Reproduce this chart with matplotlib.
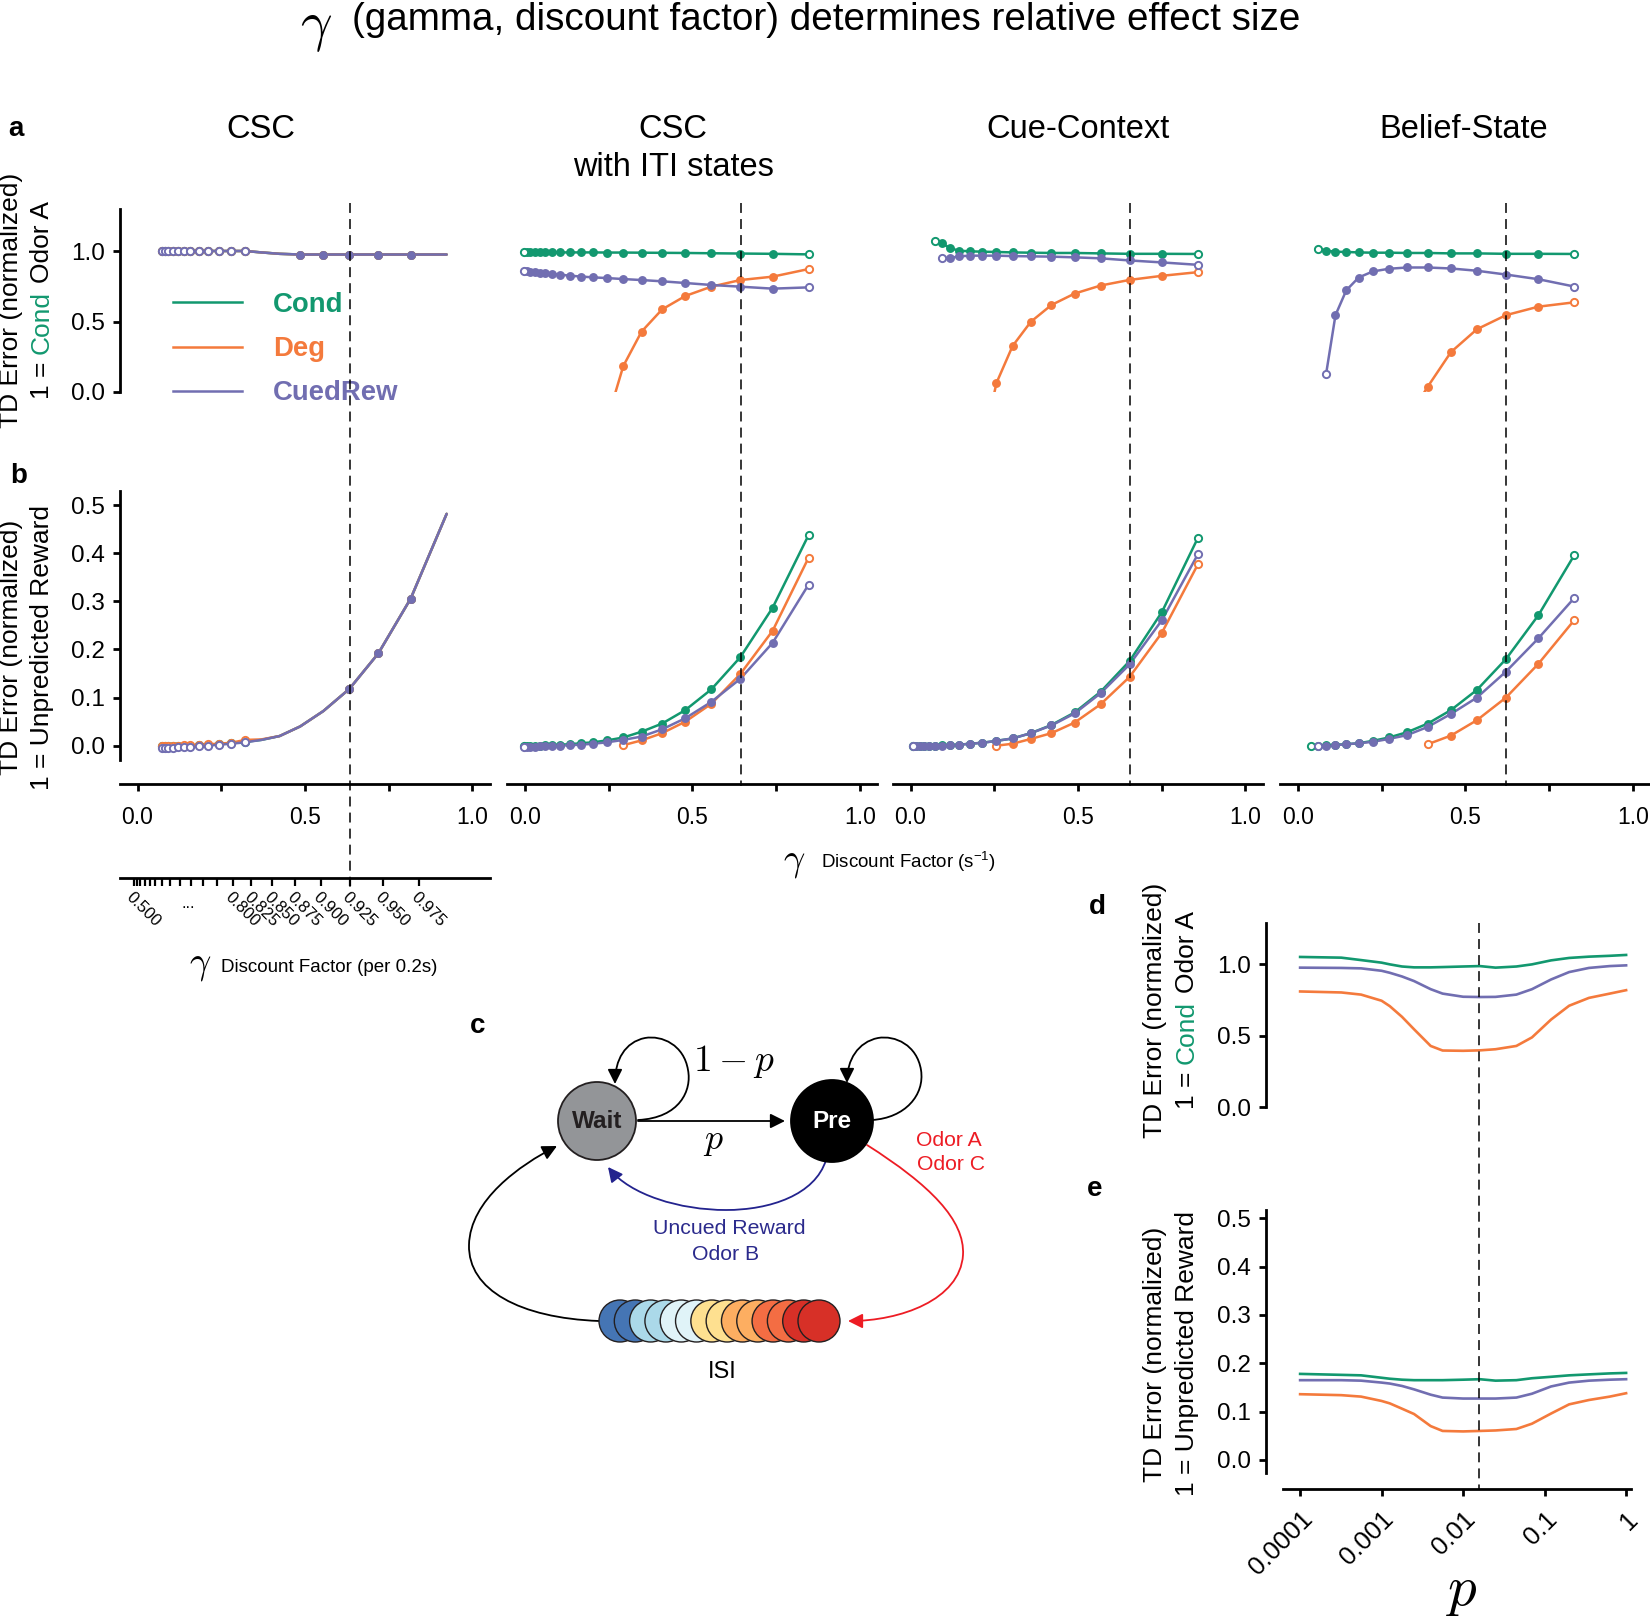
import numpy as np
import matplotlib
matplotlib.use("Agg")
import matplotlib.pyplot as plt
from matplotlib.lines import Line2D
from matplotlib.patches import Circle, FancyArrowPatch
from matplotlib.path import Path
from matplotlib.font_manager import FontProperties
from matplotlib.transforms import blended_transform_factory

FONT = "Liberation Sans"
plt.rcParams["font.family"] = [FONT, "DejaVu Sans"]
plt.rcParams["mathtext.fontset"] = "custom"
plt.rcParams["mathtext.rm"] = FONT
plt.rcParams["mathtext.it"] = FONT + ":italic"

GREEN = "#12986f"
ORANGE = "#f47a3c"
PURPLE = "#716eb1"

# ---------------- data ----------------
# discount factor per 0.2 s step; plotted as gamma**5 (per second)
GAMMA = [0.500, 0.525, 0.550, 0.575, 0.600, 0.625, 0.650, 0.675, 0.700, 0.725,
         0.750, 0.775, 0.800, 0.825, 0.850, 0.875, 0.900, 0.925, 0.950, 0.975]
# each model panel was placed with a small horizontal offset in the source figure
X_SHIFT = [0.042, -0.034, -0.023, -0.056]
DASH_X = [0.634, 0.646, 0.656, 0.622]

SERIES = ["Cond", "Deg", "CuedRew"]

# panel a: response to odor A (1 = Cond)   -- (start index into GAMMA, values)
csc_a_cond = (0, [1.00, 1.00, 1.00, 1.00, 1.00, 1.00, 1.00, 1.00, 1.00, 1.00,
                  1.00, 1.00, 0.99, 0.98, 0.975, 0.975, 0.975, 0.975, 0.975, 0.975])
csc_a_deg = (0, [1.00, 1.00, 1.00, 1.00, 1.00, 1.00, 1.00, 1.00, 1.00, 1.00,
                 1.00, 1.00, 0.99, 0.98, 0.975, 0.975, 0.975, 0.975, 0.975, 0.975])
csc_a_cued = (0, [1.00, 1.00, 1.00, 1.00, 1.00, 1.00, 1.00, 1.00, 1.00, 1.00,
                  1.00, 1.00, 0.99, 0.98, 0.975, 0.975, 0.975, 0.975, 0.975, 0.975])
iti_a_cond = (0, [0.990, 0.990, 0.990, 0.990, 0.990, 0.990, 0.990, 0.990, 0.990, 0.990,
                  0.990, 0.989, 0.989, 0.988, 0.987, 0.986, 0.984, 0.982, 0.980, 0.976])
iti_a_deg = (11, [-0.20, 0.184, 0.428, 0.586, 0.681, 0.747, 0.794, 0.818, 0.872])
iti_a_cued = (0, [0.858, 0.855, 0.852, 0.849, 0.846, 0.842, 0.837, 0.832, 0.825, 0.819,
                  0.813, 0.808, 0.801, 0.794, 0.785, 0.773, 0.759, 0.747, 0.733, 0.742])
cue_a_cond = (5, [1.074, 1.057, 1.021, 1.002, 0.998, 0.995, 0.993, 0.990, 0.988, 0.986,
                  0.986, 0.983, 0.980, 0.980, 0.979])
cue_a_deg = (10, [-0.40, 0.064, 0.326, 0.498, 0.617, 0.698, 0.755, 0.795, 0.824, 0.850])
cue_a_cued = (6, [0.952, 0.950, 0.962, 0.967, 0.967, 0.967, 0.964, 0.962, 0.960, 0.955,
                  0.948, 0.933, 0.919, 0.902])
bel_a_cond = (6, [1.017, 1.002, 0.995, 0.993, 0.990, 0.988, 0.988, 0.986, 0.986, 0.983,
                  0.983, 0.980, 0.980, 0.979])
bel_a_deg = (13, [-0.20, 0.038, 0.283, 0.445, 0.545, 0.605, 0.636])
bel_a_cued = (7, [0.129, 0.545, 0.721, 0.812, 0.855, 0.874, 0.883, 0.883, 0.876, 0.860,
                  0.833, 0.800, 0.748])

# panel b: response to reward (1 = unpredicted reward)
csc_b_cond = (0, [0.000, 0.000, 0.000, 0.000, 0.000, 0.000, 0.000, 0.001, 0.002, 0.003,
                  0.005, 0.008, 0.012, 0.020, 0.040, 0.072, 0.118, 0.192, 0.306, 0.482])
csc_b_deg = (0, [0.000, 0.000, 0.000, 0.000, 0.000, 0.001, 0.001, 0.002, 0.003, 0.004,
                 0.006, 0.012, 0.013, 0.020, 0.040, 0.072, 0.118, 0.192, 0.306, 0.482])
csc_b_cued = (0, [-0.004, -0.004, -0.004, -0.004, -0.003, -0.003, -0.002, -0.001, 0.000, 0.002,
                  0.004, 0.007, 0.012, 0.020, 0.040, 0.072, 0.118, 0.192, 0.306, 0.482])
iti_b_cond = (0, [0.000, 0.000, 0.000, 0.000, 0.000, 0.001, 0.001, 0.002, 0.003, 0.005,
                  0.007, 0.011, 0.017, 0.029, 0.046, 0.074, 0.117, 0.184, 0.287, 0.438])
iti_b_deg = (12, [0.001, 0.011, 0.026, 0.050, 0.087, 0.149, 0.239, 0.391])
iti_b_cued = (0, [-0.002, -0.002, -0.002, -0.002, -0.001, -0.001, 0.000, 0.000, 0.001, 0.002,
                  0.004, 0.007, 0.012, 0.019, 0.034, 0.057, 0.091, 0.139, 0.214, 0.335])
cue_b_cond = (0, [0.000, 0.000, 0.000, 0.000, 0.000, 0.000, 0.001, 0.001, 0.002, 0.004,
                  0.006, 0.010, 0.015, 0.026, 0.043, 0.069, 0.112, 0.176, 0.278, 0.432])
cue_b_deg = (11, [0.000, 0.004, 0.014, 0.026, 0.048, 0.086, 0.143, 0.235, 0.377])
cue_b_cued = (0, [-0.001, -0.001, -0.001, -0.001, -0.001, 0.000, 0.000, 0.001, 0.002, 0.004,
                  0.006, 0.010, 0.015, 0.026, 0.042, 0.067, 0.109, 0.169, 0.261, 0.398])
bel_b_cond = (5, [0.000, 0.000, 0.001, 0.002, 0.003, 0.005, 0.010, 0.017, 0.028, 0.046,
                  0.074, 0.116, 0.180, 0.271, 0.396])
bel_b_deg = (14, [0.003, 0.021, 0.053, 0.100, 0.170, 0.261])
bel_b_cued = (6, [-0.001, 0.000, 0.001, 0.003, 0.005, 0.008, 0.014, 0.022, 0.039, 0.066,
                  0.100, 0.154, 0.223, 0.307])

PANEL_A = [(csc_a_cond, csc_a_deg, csc_a_cued), (iti_a_cond, iti_a_deg, iti_a_cued),
           (cue_a_cond, cue_a_deg, cue_a_cued), (bel_a_cond, bel_a_deg, bel_a_cued)]
PANEL_B = [(csc_b_cond, csc_b_deg, csc_b_cued), (iti_b_cond, iti_b_deg, iti_b_cued),
           (cue_b_cond, cue_b_deg, cue_b_cued), (bel_b_cond, bel_b_deg, bel_b_cued)]

# panels d, e: Belief-State model as a function of p
P_VALS = [1e-4, 3.2e-4, 5.6e-4, 1e-3, 1.26e-3, 1.78e-3, 2.5e-3, 4e-3, 5.6e-3, 1e-2,
          1.6e-2, 2.5e-2, 4.5e-2, 7e-2, 0.12, 0.2, 0.35, 0.63, 1.0]
d_cond = [1.052, 1.047, 1.030, 1.012, 1.000, 0.985, 0.979, 0.979, 0.981, 0.985,
          0.988, 0.977, 0.985, 1.000, 1.028, 1.045, 1.054, 1.060, 1.066]
d_deg = [0.810, 0.803, 0.788, 0.745, 0.707, 0.632, 0.545, 0.428, 0.396, 0.394,
         0.397, 0.405, 0.428, 0.488, 0.613, 0.710, 0.765, 0.795, 0.819]
d_cued = [0.977, 0.975, 0.972, 0.955, 0.941, 0.915, 0.883, 0.826, 0.795, 0.773,
          0.771, 0.772, 0.788, 0.826, 0.894, 0.946, 0.975, 0.988, 0.993]
e_cond = [0.178, 0.176, 0.175, 0.170, 0.168, 0.166, 0.165, 0.165, 0.165, 0.166,
          0.167, 0.164, 0.165, 0.169, 0.172, 0.175, 0.177, 0.179, 0.180]
e_deg = [0.136, 0.134, 0.131, 0.122, 0.117, 0.106, 0.095, 0.070, 0.060, 0.059,
         0.060, 0.061, 0.064, 0.075, 0.096, 0.115, 0.124, 0.131, 0.138]
e_cued = [0.165, 0.165, 0.164, 0.160, 0.158, 0.153, 0.146, 0.135, 0.129, 0.127,
          0.127, 0.127, 0.129, 0.137, 0.152, 0.160, 0.164, 0.166, 0.167]
P_DASH = 0.0158
P_TICKS = [1e-4, 1e-3, 1e-2, 1e-1, 1]
P_LABELS = ["0.0001", "0.001", "0.01", "0.1", "1"]

# per-0.2 s gamma ticks under the CSC panel
G02_TICKS = [0.500, 0.525, 0.550, 0.575, 0.600, 0.625, 0.650, 0.675, 0.700, 0.725, 0.750, 0.775,
             0.800, 0.825, 0.850, 0.875, 0.900, 0.925, 0.950, 0.975]
G02_LABELED = ["0.500", "0.800", "0.825", "0.850", "0.875", "0.900", "0.925", "0.950", "0.975"]

ISI_COLORS = ["#4575b4", "#4575b4", "#abd9e9", "#abd9e9", "#e0f3f8", "#e0f3f8", "#fee090",
              "#fee090", "#fdae61", "#fdae61", "#f46d43", "#f46d43", "#d73027", "#d73027"]

# ---------------- layout helpers (pixel units, y from top) ----------------
W, H = 1650, 1618
fig = plt.figure(figsize=(W / 100, H / 100), dpi=100)
renderer = fig.canvas.get_renderer()


def fx(x):
    return x / W


def fy(y):
    return 1 - y / H


def px_axes(left, top, width, height):
    return fig.add_axes([fx(left), fy(top + height), width / W, height / H])


def text_w(s, size, weight="normal"):
    fp = FontProperties(family=FONT, size=size, weight=weight)
    w, h, d = renderer.get_text_width_height_descent(s, fp, ismath=False)
    return w


def ylabel2(x1, x2, yc, line1, pieces, size=19):
    fig.text(fx(x1), fy(yc), line1, rotation=90, ha="center", va="center", fontsize=size)
    full = "".join(s for s, c in pieces)
    start = yc + text_w(full, size) / 2
    prefix = ""
    for s, c in pieces:
        prefix += s
        word = s.strip()
        off = text_w(prefix.rstrip(), size) - text_w(word, size)
        fig.text(fx(x2), fy(start - off), word, rotation=90, ha="center", va="bottom",
                 fontsize=size, color=c)


LW = 1.8
SPINE = 2.0
COLORS = [GREEN, ORANGE, PURPLE]


def style_axis(ax):
    for s in ax.spines.values():
        s.set_visible(False)
        s.set_linewidth(SPINE)
    ax.tick_params(width=SPINE, length=5, labelsize=16.5, direction="out")
    ax.tick_params(axis="y", labelsize=17.5)
    ax.patch.set_alpha(0)


def draw_series(ax, col, series, color, fill_lo):
    start, vals = series
    g = np.array(GAMMA[start:start + len(vals)])
    x = g ** 5 + X_SHIFT[col]
    y = np.array(vals)
    ax.plot(x, y, color=color, lw=LW, solid_capstyle="round", zorder=2)
    n = len(x)
    if col == 0:
        open_m = g < 0.79
        fill_m = (g > fill_lo) & (g < 0.96)
    else:
        open_m = np.zeros(n, bool)
        open_m[0] = True
        open_m[-1] = True
        fill_m = ~open_m
    ax.plot(x[fill_m], y[fill_m], "o", ms=5.2, mfc=color, mec=color, mew=1.2, zorder=3)
    ax.plot(x[open_m], y[open_m], "o", ms=5.2, mfc="white", mec=color, mew=1.4, zorder=3)


# ---------------- panels a and b ----------------
col_left = [119.8, 507.2, 892.8, 1280.2]
col_w = 370
XLIM = (-0.053, 1.052)
for col in range(4):
    ax_a = px_axes(col_left[col], 208.7, col_w, 183.3)
    ax_b = px_axes(col_left[col], 490.8, col_w, 269.3)
    for ax, data, ylim, lo in ((ax_a, PANEL_A[col], (0, 1.3), 0.84),
                               (ax_b, PANEL_B[col], (-0.03, 0.53), 0.89)):
        style_axis(ax)
        for series, color in zip(data, COLORS):
            draw_series(ax, col, series, color, lo)
        ax.set_xlim(*XLIM)
        ax.set_ylim(*ylim)
    ax_a.set_xticks([])
    ax_a.set_yticks([0, 0.5, 1.0])
    ax_a.set_yticklabels(["0.0", "0.5", "1.0"])
    ax_b.set_yticks([0, 0.1, 0.2, 0.3, 0.4, 0.5])
    ax_b.set_yticklabels(["0.0", "0.1", "0.2", "0.3", "0.4", "0.5"])
    ax_b.spines["bottom"].set_visible(True)
    ax_b.spines["bottom"].set_position(("outward", 17))
    ax_b.set_xticks([0, 0.25, 0.5, 0.75, 1.0])
    ax_b.set_xticklabels(["0.0", "", "0.5", "", "1.0"])
    ax_b.tick_params(axis="x", pad=11)
    if col == 0:
        ax_a.spines["left"].set_visible(True)
        ax_b.spines["left"].set_visible(True)
        ax_a.tick_params(axis="y", pad=6)
        ax_b.tick_params(axis="y", pad=6)
    else:
        ax_a.set_yticks([])
        ax_b.set_yticks([])
    # dashed reference line running through a and b
    tr = blended_transform_factory(ax_b.transData, fig.transFigure)
    y_end = 888 if col == 0 else 786
    fig.add_artist(Line2D([DASH_X[col]] * 2, [fy(203), fy(y_end)], transform=tr,
                          color="black", lw=1.1, ls=(0, (6.5, 4))))
    if col == 0:
        handles = [Line2D([], [], color=c, lw=LW) for c in COLORS]
        leg = ax_a.legend(handles, SERIES, loc="upper left", frameon=False,
                          bbox_to_anchor=(fx(173), fy(292)), bbox_transform=fig.transFigure,
                          borderaxespad=0, borderpad=0, handlelength=2.5, handletextpad=1.15,
                          labelspacing=0.66, prop=FontProperties(family=FONT, size=19.8, weight="bold"))
        for t, c in zip(leg.get_texts(), COLORS):
            t.set_color(c)

# per 0.2 s axis under CSC panel
ax_g = px_axes(col_left[0], 870, col_w, 8)
style_axis(ax_g)
ax_g.spines["bottom"].set_visible(True)
ax_g.set_xlim(*XLIM)
ax_g.set_yticks([])
g02 = np.array(G02_TICKS)
tick_x = g02 ** 5 - X_SHIFT[0]
lab = [f"{g:.3f}" if f"{g:.3f}" in G02_LABELED else "" for g in G02_TICKS]
ax_g.set_xticks(tick_x)
ax_g.set_xticklabels(lab, rotation=-45, ha="left", va="top", rotation_mode="anchor", fontsize=12)
ax_g.tick_params(axis="x", length=5.5, width=1.6, pad=3)
fig.text(fx(188), fy(903), "...", fontsize=12, ha="center", va="center")

# column titles and axis labels
for s, x, y in (("CSC", 261, 129), ("CSC", 673, 129), ("with ITI states", 673, 168),
                ("Cue-Context", 1078, 129), ("Belief-State", 1464, 129)):
    fig.text(fx(x), fy(y), s, ha="center", va="center", fontsize=23.5)

fig.text(fx(316), fy(28), r"$\gamma$", math_fontfamily="cm", fontsize=40, ha="center", va="center")
fig.text(fx(352), fy(20), "(gamma, discount factor) determines relative effect size",
         fontsize=27.8, ha="left", va="center")

fig.text(fx(794), fy(862), r"$\gamma$", math_fontfamily="cm", fontsize=27, ha="center", va="center")
fig.text(fx(821), fy(862), r"Discount Factor (s$^{\mathrm{-1}}$)", fontsize=13.5, ha="left", va="center")
fig.text(fx(200), fy(965), r"$\gamma$", math_fontfamily="cm", fontsize=27, ha="center", va="center")
fig.text(fx(221), fy(967), "Discount Factor (per 0.2s)", fontsize=13.5, ha="left", va="center")

ylabel2(11, 42, 300, "TD Error (normalized)", [("1 = ", "black"), ("Cond", GREEN), (" Odor A", "black")])
ylabel2(11, 42, 647, "TD Error (normalized)", [("1 = Unpredicted Reward", "black")])

for s, x, y in (("a", 8, 129), ("b", 10, 476), ("c", 470, 1026), ("d", 1089, 907), ("e", 1087, 1189)):
    fig.text(fx(x), fy(y), s, fontsize=20, fontweight="bold", ha="left", va="center")

# ---------------- panels d and e ----------------
p = np.array(P_VALS)
PXLIM = (10 ** -4.21, 10 ** 0.06)
ax_d = px_axes(1283, 923, 348, 184)
ax_e = px_axes(1283, 1210, 348, 263)
for ax, ys, ylim, yt in ((ax_d, (d_cond, d_deg, d_cued), (0, 1.29), [0, 0.5, 1.0]),
                         (ax_e, (e_cond, e_deg, e_cued), (-0.027, 0.517), [0, 0.1, 0.2, 0.3, 0.4, 0.5])):
    style_axis(ax)
    for vals, color in zip(ys, COLORS):
        ax.plot(p, vals, color=color, lw=1.9)
    ax.set_xscale("log")
    ax.set_xlim(*PXLIM)
    ax.set_ylim(*ylim)
    ax.spines["left"].set_visible(True)
    ax.spines["left"].set_position(("outward", 12))
    ax.set_yticks(yt)
    ax.set_yticklabels([f"{v:.1f}" for v in yt])
    ax.tick_params(axis="y", pad=6)
    ax.minorticks_off()
ax_d.set_xticks([])
ax_e.spines["bottom"].set_visible(True)
ax_e.spines["bottom"].set_position(("outward", 11.5))
ax_e.set_xticks(P_TICKS)
ax_e.set_xticklabels(P_LABELS, rotation=45, ha="right", va="top", rotation_mode="anchor", fontsize=18.5)
ax_e.tick_params(axis="x", pad=8)
ax_e.minorticks_off()
tr = blended_transform_factory(ax_e.transData, fig.transFigure)
fig.add_artist(Line2D([P_DASH] * 2, [fy(923), fy(1489)], transform=tr,
                      color="black", lw=1.1, ls=(0, (6.5, 4))))
fig.text(fx(1462), fy(1591), r"$p$", math_fontfamily="cm", fontsize=41, ha="center", va="center")
ylabel2(1155, 1187, 1010, "TD Error (normalized)", [("1 = ", "black"), ("Cond", GREEN), (" Odor A", "black")])
ylabel2(1155, 1187, 1354, "TD Error (normalized)", [("1 = Unpredicted Reward", "black")])

# ---------------- panel c: state diagram ----------------
ax_c = px_axes(440, 1000, 560, 400)
ax_c.set_xlim(440, 1000)
ax_c.set_ylim(1400, 1000)
ax_c.axis("off")


def arrow(verts, color, lw=1.3):
    codes = [Path.MOVETO] + [Path.CURVE4] * (len(verts) - 1)
    ax_c.add_patch(FancyArrowPatch(path=Path(verts, codes), arrowstyle="-|>", mutation_scale=22,
                                   color=color, lw=lw, zorder=1))


ax_c.add_patch(FancyArrowPatch((638, 1121), (785, 1121), arrowstyle="-|>", mutation_scale=22,
                               color="black", lw=1.3, shrinkA=0, shrinkB=0, zorder=1))
arrow([(638, 1120), (680, 1118), (692, 1090), (688, 1070), (684, 1045), (662, 1035), (645, 1038),
       (625, 1042), (615, 1060), (615, 1084)], "black")
arrow([(872, 1120), (905, 1118), (925, 1095), (921, 1070), (917, 1045), (895, 1035), (878, 1038),
       (858, 1042), (847, 1060), (847, 1083)], "black")
arrow([(826, 1160), (815, 1195), (770, 1210), (726, 1210), (680, 1210), (630, 1195), (608, 1167)],
      "#23238e")
arrow([(867, 1145), (930, 1185), (965, 1220), (963, 1255), (960, 1300), (900, 1321), (848, 1321)],
      "#ed1c24")
arrow([(599, 1321), (520, 1318), (468, 1290), (469, 1245), (470, 1200), (520, 1165), (557, 1146)],
      "black")

ax_c.add_patch(Circle((597, 1121), 39, fc="#939598", ec="#231f20", lw=1.3, zorder=3))
ax_c.add_patch(Circle((832, 1121), 41, fc="black", ec="black", lw=1.3, zorder=3))
ax_c.text(597, 1121, "Wait", ha="center", va="center", fontsize=17.5, fontweight="bold",
          color="#231f20", zorder=4)
ax_c.text(832, 1121, "Pre", ha="center", va="center", fontsize=17.5, fontweight="bold",
          color="white", zorder=4)
for i, (cx, c) in enumerate(zip(np.linspace(620, 819, len(ISI_COLORS)), ISI_COLORS)):
    ax_c.add_patch(Circle((cx, 1321), 21, fc=c, ec="#231f20", lw=1.0, zorder=3 + i * 0.01))
ax_c.text(713, 1140, r"$p$", math_fontfamily="cm", fontsize=26, ha="center", va="center")
ax_c.text(693, 1062, r"$1-p$", math_fontfamily="cm", fontsize=27, ha="left", va="center")
ax_c.text(729, 1229, "Uncued Reward", color="#2b2a8c", fontsize=15.3, ha="center", va="center")
ax_c.text(726, 1254, "Odor B", color="#2b2a8c", fontsize=15.3, ha="center", va="center")
ax_c.text(949, 1140, "Odor A", color="#ed1c24", fontsize=15.2, ha="center", va="center")
ax_c.text(951, 1165, "Odor C", color="#ed1c24", fontsize=15.2, ha="center", va="center")
ax_c.text(722, 1372, "ISI", fontsize=17, ha="center", va="center")

fig.savefig("out.png", dpi=100)
